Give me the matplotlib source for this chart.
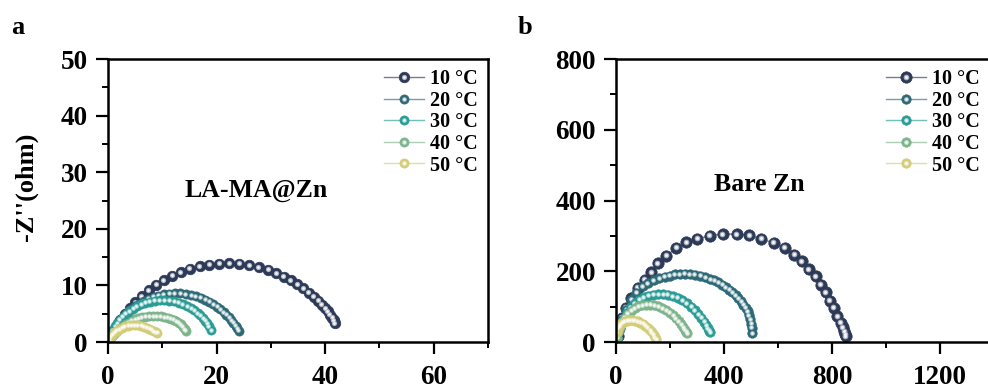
import matplotlib
matplotlib.use("Agg")
import matplotlib.pyplot as plt
from matplotlib import transforms
from matplotlib.colors import to_rgb
import numpy as np

plt.rcParams["font.family"] = ["Liberation Serif", "DejaVu Serif"]
plt.rcParams["font.weight"] = "bold"
plt.rcParams["axes.labelweight"] = "bold"

temps = ["10 °C", "20 °C", "30 °C", "40 °C", "50 °C"]
colors = ["#2c3a57", "#2d6977", "#2a9c95", "#7db48c", "#d3cc78"]

# LA-MA@Zn Nyquist data (Z' / -Z'' in ohm)
lama_x10 = [0.5, 1.0, 1.6, 2.3, 3.1, 4.0, 5.0, 6.2, 7.5, 8.9, 10.3, 11.8, 13.4, 15.1, 16.9, 18.7,
            20.5, 22.3, 24.2, 26.0, 27.8, 29.5, 31.0, 32.4, 33.7, 34.9, 36.0, 37.0, 37.9, 38.7,
            39.4, 40.0, 40.5, 40.9, 41.3, 41.6, 41.8]
lama_y10 = [1.0, 1.9, 2.85, 3.87, 4.91, 5.95, 6.99, 8.08, 9.11, 10.08, 10.91, 11.66, 12.33, 12.9,
            13.36, 13.68, 13.85, 13.9, 13.8, 13.57, 13.2, 12.72, 12.18, 11.57, 10.91, 10.2, 9.47,
            8.73, 8.0, 7.27, 6.59, 5.95, 5.39, 4.85, 4.3, 3.8, 3.3]
lama_x20 = [0.3, 0.6, 1.0, 1.4, 1.9, 2.4, 3.0, 3.6, 4.3, 5.0, 5.8, 6.6, 7.5, 8.4, 9.3, 10.3, 11.3,
            12.3, 13.3, 14.3, 15.3, 16.2, 17.1, 17.9, 18.7, 19.4, 20.1, 20.7, 21.3, 21.8, 22.3,
            22.7, 23.1, 23.5, 23.8, 24.1]
lama_y20 = [0.72, 1.34, 2.06, 2.7, 3.39, 4.0, 4.65, 5.21, 5.8, 6.3, 6.8, 7.23, 7.63, 7.96, 8.21,
            8.42, 8.55, 8.6, 8.58, 8.48, 8.31, 8.08, 7.79, 7.46, 7.08, 6.69, 6.24, 5.8, 5.3, 4.84,
            4.33, 3.88, 3.39, 2.9, 2.45, 2.0]
lama_x30 = [0.3, 0.6, 0.9, 1.3, 1.7, 2.2, 2.7, 3.3, 3.9, 4.6, 5.3, 6.1, 6.9, 7.7, 8.6, 9.5, 10.4,
            11.3, 12.2, 13.0, 13.8, 14.6, 15.3, 15.9, 16.5, 17.0, 17.5, 17.9, 18.3, 18.6, 19.0]
lama_y30 = [0.85, 1.53, 2.1, 2.75, 3.3, 3.91, 4.43, 4.97, 5.44, 5.9, 6.28, 6.65, 6.93, 7.14, 7.31,
            7.39, 7.39, 7.32, 7.17, 6.96, 6.68, 6.33, 5.96, 5.58, 5.13, 4.71, 4.23, 3.79, 3.3,
            2.8, 2.1]
lama_x40 = [0.8, 1.1, 1.5, 1.9, 2.3, 2.8, 3.3, 3.8, 4.4, 5.0, 5.6, 6.2, 6.9, 7.6, 8.3, 9.0, 9.7,
            10.4, 11.0, 11.6, 12.1, 12.6, 13.0, 13.4, 13.8, 14.1, 14.3]
lama_y40 = [1.06, 1.4, 1.8, 2.16, 2.48, 2.85, 3.17, 3.44, 3.73, 3.98, 4.18, 4.33, 4.47, 4.56, 4.6,
            4.59, 4.53, 4.42, 4.29, 4.11, 3.9, 3.65, 3.4, 3.1, 2.7, 2.3, 2.0]
lama_x50 = [0.2, 0.5, 0.8, 1.2, 1.6, 2.1, 2.6, 3.1, 3.7, 4.3, 4.9, 5.5, 6.1, 6.6, 7.1, 7.6, 8.0,
            8.4, 8.8, 9.1]
lama_y50 = [0.4, 0.9, 1.3, 1.7, 2.0, 2.3, 2.55, 2.75, 2.9, 3.0, 3.0, 2.95, 2.85, 2.7, 2.55, 2.35,
            2.15, 1.95, 1.75, 1.6]

# Bare Zn Nyquist data
bare_x10 = [6, 12, 22, 37, 56, 81, 106, 130, 155, 186, 224, 261, 301, 348, 395, 447, 493, 538,
            584, 625, 661, 689, 714, 739, 758, 776, 791, 807, 820, 832, 840, 845, 849, 851]
bare_y10 = [16, 40, 68, 96, 124, 153, 176, 197, 223, 244, 266, 282, 291, 301, 305, 305, 302, 291,
            280, 266, 247, 228, 206, 186, 162, 140, 117, 96, 73, 55, 42, 30, 22, 16]
bare_x20 = [5, 12, 22, 37, 56, 75, 99, 118, 140, 161, 180, 199, 218, 236, 255, 273, 292, 311, 330,
            348, 364, 379, 394, 407, 420, 431, 443, 453, 463, 472, 480, 487, 492, 497, 500, 503, 505]
bare_y20 = [15, 37, 63, 91, 120, 139, 157, 166, 175, 181, 185, 188, 191, 192, 193, 192, 190, 188,
            183, 178, 174, 169, 162, 155, 148, 140, 132, 124, 115, 106, 97, 87, 76, 65, 52, 40, 25]
bare_x30 = [5, 11, 19, 29, 41, 55, 70, 86, 103, 120, 138, 156, 174, 192, 210, 228, 245, 262, 278,
            292, 305, 316, 326, 334, 340, 345, 348]
bare_y30 = [12, 30, 48, 66, 83, 98, 110, 119, 126, 131, 134, 135, 135, 133, 130, 125, 118, 110,
            100, 90, 79, 68, 57, 47, 39, 32, 27]
bare_x40 = [4, 9, 16, 24, 33, 44, 56, 69, 83, 97, 112, 127, 142, 157, 172, 186, 199, 211, 222,
            232, 241, 249, 255, 260, 264]
bare_y40 = [12, 27, 42, 56, 69, 80, 89, 96, 101, 104, 106, 106, 104, 101, 96, 90, 83, 75, 67, 58,
            50, 42, 35, 29, 25]
bare_x50 = [2, 6, 11, 17, 24, 32, 41, 50, 60, 70, 80, 90, 100, 109, 118, 126, 133, 139, 144, 148]
bare_y50 = [28, 37, 44, 50, 55, 58, 60, 61, 61, 60, 58, 55, 51, 46, 40, 34, 28, 21, 14, 8]

lama = [(lama_x10, lama_y10), (lama_x20, lama_y20), (lama_x30, lama_y30),
        (lama_x40, lama_y40), (lama_x50, lama_y50)]
bare = [(bare_x10, bare_y10), (bare_x20, bare_y20), (bare_x30, bare_y30),
        (bare_x40, bare_y40), (bare_x50, bare_y50)]


def tint(c, f):
    r = np.array(to_rgb(c))
    return tuple(r + (1 - r) * f)


def balls(ax, x, y, color, ms, label):
    # base sphere + lighter core + specular spot
    base, = ax.plot(x, y, "-", color=tint(color, 0.35), lw=1.0, marker="o", ms=ms,
                    mfc=color, mec=color, mew=0.5, label=label)
    off = transforms.offset_copy(ax.transData, fig=ax.figure, x=-ms * 0.05, y=ms * 0.05,
                                 units="points")
    core, = ax.plot(x, y, ls="none", marker="o", ms=ms * 0.5, mfc=tint(color, 0.62),
                    mec="none", transform=off)
    spot, = ax.plot(x, y, ls="none", marker="o", ms=ms * 0.27, mfc=tint(color, 0.95),
                    mec="none", transform=off)
    return (base, core, spot)


fig = plt.figure(figsize=(9.88, 3.91), dpi=100)
ax_a = fig.add_axes([0.1093, 0.1253, 0.3846, 0.7238])
ax_b = fig.add_axes([0.6235, 0.1253, 0.3826, 0.7238])

panels = [
    (ax_a, lama, 7.6, 6.6, (0, 70), (0, 50), [0, 20, 40, 60], [0, 10, 20, 30, 40, 50],
     "LA-MA@Zn", (27.2, 26.7), (1.0, 1.0)),
    (ax_b, bare, 8.2, 6.8, (0, 1400), (0, 800), [0, 400, 800, 1200], [0, 200, 400, 600, 800],
     "Bare Zn", (532, 445), (0.99, 1.0)),
]

for ax, series, ms_big, ms_small, xl, yl, xt, yt, name, pos, lpos in panels:
    handles = []
    for i, (x, y) in enumerate(series):
        ms = ms_big if i == 0 else ms_small
        handles.append(balls(ax, x, y, colors[i], ms, temps[i]))
    ax.set_xlim(*xl)
    ax.set_ylim(*yl)
    ax.set_xticks(xt)
    ax.set_yticks(yt)
    step = xt[1] - xt[0]
    ax.set_xticks([v + step / 2 for v in xt], minor=True)
    ax.set_yticks([(yt[k] + yt[k + 1]) / 2 for k in range(len(yt) - 1)], minor=True)
    ax.tick_params(which="major", direction="out", length=8.5, width=1.6, labelsize=19.5)
    ax.tick_params(axis="x", which="major", pad=8)
    ax.tick_params(axis="y", which="major", pad=6)
    ax.tick_params(which="minor", direction="out", length=4.5, width=1.4)
    for sp in ax.spines.values():
        sp.set_linewidth(1.8)
    ax.text(pos[0], pos[1], name, ha="center", va="center", fontsize=18.5, fontweight="bold")
    ax.legend(handles, temps, loc="upper right", bbox_to_anchor=lpos, frameon=False,
              handlelength=2.0, handletextpad=0.3, labelspacing=0.08,
              borderaxespad=0.1, prop={"weight": "bold", "size": 14.5})

ax_a.set_ylabel("-Z''(ohm)", fontsize=19, fontweight="bold")
ax_a.yaxis.set_label_coords(-0.185, 0.55)

fig.text(18 / 988, 1 - 27 / 391, "a", fontsize=19, fontweight="bold", ha="center", va="center")
fig.text(525 / 988, 1 - 27 / 391, "b", fontsize=19, fontweight="bold", ha="center", va="center")

fig.savefig("out.png", dpi=100)
